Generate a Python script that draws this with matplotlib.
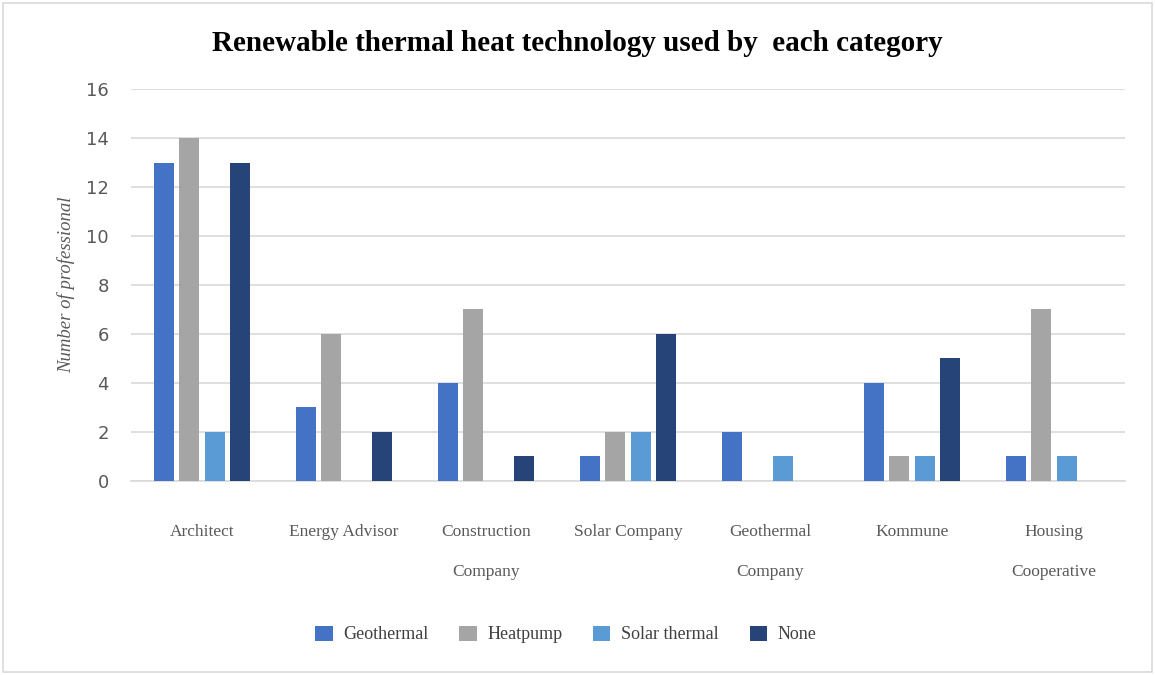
import numpy as np
import matplotlib.pyplot as plt
from matplotlib.patches import Rectangle

# categories and counts per technology
categories = ["Architect", "Energy Advisor", "Construction\nCompany", "Solar Company",
              "Geothermal\nCompany", "Kommune", "Housing\nCooperative"]
series_names = ["Geothermal", "Heatpump", "Solar thermal", "None"]
geothermal = [13, 3, 4, 1, 2, 4, 1]
heatpump = [14, 6, 7, 2, 0, 1, 7]
solar_thermal = [2, 0, 0, 2, 1, 1, 1]
none = [13, 2, 1, 6, 0, 5, 0]
colors = ["#4472C4", "#A5A5A5", "#5B9BD5", "#264478"]

fig = plt.figure(figsize=(11.55, 6.75), dpi=100)
ax = fig.add_axes([0.1134, 0.288, 0.8606, 0.58])

x = np.arange(len(categories))
width = 0.14
step = 0.18
for i, (vals, name) in enumerate(zip([geothermal, heatpump, solar_thermal, none], series_names)):
    ax.bar(x + (i - 1.5) * step, vals, width, color=colors[i], label=name, zorder=3)

ax.set_xlim(-0.5, len(categories) - 0.5)
ax.set_ylim(0, 16)
ax.set_yticks(range(0, 17, 2))
ax.yaxis.grid(True, color="#D9D9D9", linewidth=1.2, zorder=0)
for s in ["top", "right", "left"]:
    ax.spines[s].set_visible(False)
ax.spines["bottom"].set_color("#D9D9D9")
ax.spines["bottom"].set_linewidth(1.2)
ax.tick_params(axis="both", length=0)
ax.tick_params(axis="y", labelsize=13, labelcolor="#595959", pad=16)
ax.set_xticks(x)
ax.set_xticklabels(categories, fontsize=12.5, color="#595959", family="Liberation Serif",
                   linespacing=3.0, va="top")
ax.tick_params(axis="x", pad=31)

ax.set_ylabel("Number of professional", fontsize=13.5, color="#595959", style="italic",
              family="Liberation Serif", labelpad=8)

fig.text(0.5, 0.935, "Renewable thermal heat technology used by  each category",
         ha="center", va="center", fontsize=21, fontweight="bold", family="Liberation Serif")

leg = fig.legend(loc="center", bbox_to_anchor=(0.49, 0.06), ncol=4, frameon=False,
                 prop={"family": "Liberation Serif", "size": 13}, handlelength=0.95,
                 handleheight=0.95, columnspacing=1.7, handletextpad=0.6)
for t in leg.get_texts():
    t.set_color("#404040")

fig.patches.append(Rectangle((0.003, 0.004), 0.994, 0.992, transform=fig.transFigure,
                             fill=False, edgecolor="#D9D9D9", linewidth=1.2))

fig.savefig("out.png", dpi=100)
